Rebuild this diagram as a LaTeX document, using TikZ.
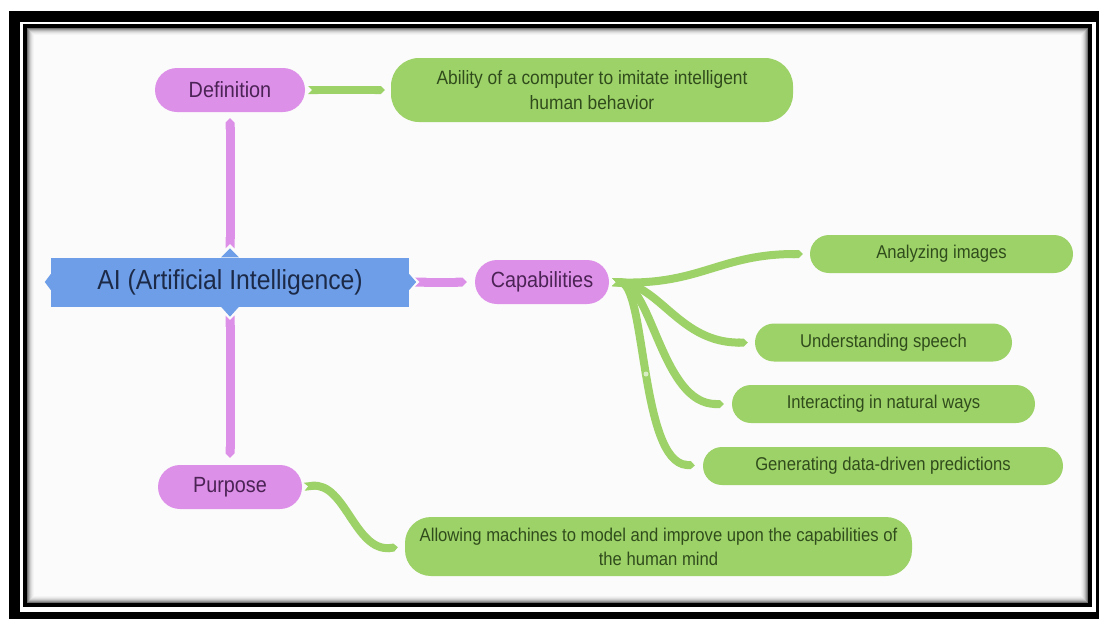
\documentclass[tikz,border=0pt]{standalone}
\usepackage{fontspec}
\setmainfont{Liberation Sans}[FakeStretch=0.9]
\usetikzlibrary{arrows.meta}
\definecolor{pinkc}{RGB}{221,144,232}
\definecolor{greenc}{RGB}{157,210,104}
\definecolor{bluec}{RGB}{110,158,232}
\definecolor{pinktext}{RGB}{75,35,85}
\definecolor{greentext}{RGB}{48,76,28}
\definecolor{bluetext}{RGB}{28,42,72}
\definecolor{bgc}{RGB}{251,251,251}
\begin{document}
\begin{tikzpicture}[x=1pt,y=-1pt,
  pill/.style={fill=pinkc, text=pinktext, rounded corners=22pt, minimum height=44pt, inner sep=0pt, font=\fontsize{22}{26}\selectfont},
  gbox/.style={fill=greenc, text=greentext, rounded corners=19pt, minimum height=38pt, inner sep=0pt, font=\fontsize{18.5}{24}\selectfont},
  aibox/.style={fill=bluec, text=bluetext, minimum width=358pt, minimum height=49pt, inner sep=0pt, font=\fontsize{27.5}{32}\selectfont},
  pconn/.style={draw=pinkc, line width=9pt, arrows={Triangle Cap[reversed]-Triangle Cap}},
  gconn/.style={draw=greenc, line width=8pt, arrows={Triangle Cap[reversed]-Triangle Cap}},
  bump/.style={fill=bluec}
]
% frame
\useasboundingbox (0,0) rectangle (1099,619);
\fill[white] (0,0) rectangle (1099,619);
\fill[black] (9,11) rectangle (1099,619);
\fill[white] (20,22) rectangle (1096,612);
\fill[black] (23,24) rectangle (1092,607);
\fill[bgc] (27,28) rectangle (1088,603);
\foreach \i/\c in {0/55,1/40,2/28,3/18,4/11,5/6,6/3}
  \draw[black!\c!bgc, line width=1pt] (27.5+\i,28.5+\i) rectangle (1087.5-\i,602.5-\i);

% nodes
\node[pill, minimum width=150pt] (def) at (230,90) {Definition};
\node[gbox, minimum width=402pt, minimum height=64pt, rounded corners=28pt, align=center, font=\fontsize{19.3}{25}\selectfont] (abil) at (592,90) {Ability of a computer to imitate intelligent\\human behavior};
\node[aibox] (ai) at (230,282) {AI (Artificial Intelligence)};
\node[pill, minimum width=134pt] (cap) at (542,282) {Capabilities};
\node[pill, minimum width=144pt] (pur) at (230,487) {Purpose};
\node[gbox, minimum width=263pt] (an) at (941.5,254) {Analyzing images};
\node[gbox, minimum width=257pt] (us) at (883.5,342.5) {Understanding speech};
\node[gbox, minimum width=303pt] (int) at (883.5,404) {Interacting in natural ways};
\node[gbox, minimum width=360pt] (gen) at (883,466) {Generating data-driven predictions};
\node[gbox, minimum width=507pt, minimum height=59pt, rounded corners=26pt, align=center] (allow) at (658.5,546.5) {Allowing machines to model and improve upon the capabilities of\\the human mind};

% bumps on AI box
\fill[bump] ([xshift=-9pt]ai.north) -- ([yshift=9pt]ai.north) -- ([xshift=9pt]ai.north) -- cycle;
\fill[bump] ([xshift=-9pt]ai.south) -- ([yshift=-10pt]ai.south) -- ([xshift=9pt]ai.south) -- cycle;
\fill[bump] ([yshift=8pt]ai.west) -- ([xshift=-6pt]ai.west) -- ([yshift=-8pt]ai.west) -- cycle;
\fill[bump] ([yshift=8pt]ai.east) -- ([xshift=7pt]ai.east) -- ([yshift=-8pt]ai.east) -- cycle;

% pink connectors
\draw[pconn, shorten <=9pt, shorten >=6pt] (ai.north) -- (def.south);
\draw[pconn, shorten <=9pt, shorten >=7pt] (ai.south) -- (pur.north);
\draw[pconn, shorten <=6pt, shorten >=8pt] (ai.east) -- (cap.west);

% green connectors
\draw[gconn, shorten <=3pt, shorten >=6pt] (def.east) -- (abil.west);
\draw[gconn, shorten <=2pt, shorten >=7pt] (pur.east) .. controls +(43,-5) and +(-50,5) .. (allow.west);
\draw[gconn, shorten <=3pt, shorten >=7pt] (cap.east) .. controls (700,285) and (720,254) .. (an.west);
\draw[gconn, shorten <=3pt, shorten >=7pt] (cap.east) .. controls (660,285) and (680,343) .. (us.west);
\draw[gconn, shorten <=3pt, shorten >=8pt] (cap.east) .. controls (652,284) and (662,404) .. (int.west);
\draw[gconn, shorten <=3pt, shorten >=8pt] (cap.east) .. controls (646,283) and (640,462) .. (gen.west);
\fill[greenc!40!white] (646,374) circle (2.5);
\end{tikzpicture}
\end{document}
